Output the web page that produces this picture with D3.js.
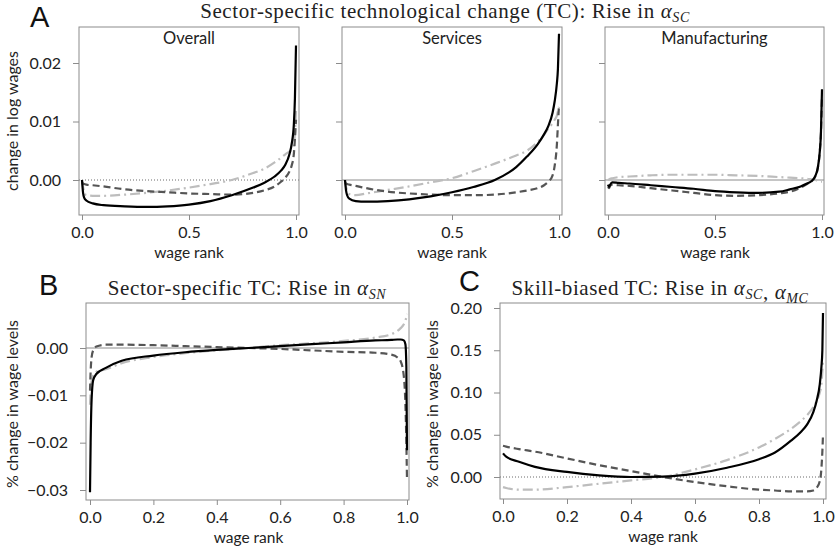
<!DOCTYPE html>
<html>
<head>
<meta charset="utf-8">
<title>Wage effects of technological change</title>
<script src="https://d3js.org/d3.v7.min.js"></script>
<style>
  body { margin: 0; background: #fff; }
  .tick text { font-family: Lato, sans-serif; font-size: 16px; fill: #222; }
  .tick line { stroke: #8c8c8c; }
  .axis .domain { display: none; }
  .lbl { font-family: Lato, sans-serif; fill: #222; }
  .ttl { font-family: "Liberation Serif", serif; fill: #222; font-size: 21px; letter-spacing: 0.6px; }
  .big { font-family: "Liberation Sans", sans-serif; font-size: 29px; fill: #111; }
</style>
</head>
<body>
<script>
// wage rank grids (dense near the ends where the curves spike)
var rankA = [0, .005, .01, .02, .05, .1, .2, .3, .4, .5, .6, .7, .8, .85, .9, .93, .95, .97, .98, .99, .995, 1];
var rankB = [0, .002, .005, .01, .02, .05, .1, .2, .3, .4, .5, .6, .7, .8, .9, .95, .97, .98, .99, .995, .998, 1];
var rankC = [0, .01, .05, .1, .2, .3, .4, .5, .6, .7, .8, .85, .9, .93, .95, .97, .98, .99, .995, .998, 1];

// Panel A: change in log wages, rise in alpha_SC
var overallSolid   = [0, -0.0022, -0.003, -0.0035, -0.004, -0.0043, -0.0045, -0.0046, -0.0045, -0.0042, -0.0036, -0.0026, -0.0013, -0.0005, 0.0006, 0.0016, 0.0026, 0.0045, 0.0062, 0.0095, 0.014, 0.023];
var overallDashed  = [-0.0005, -0.0006, -0.0007, -0.0008, -0.0009, -0.0011, -0.0016, -0.0019, -0.0021, -0.0023, -0.0024, -0.0025, -0.0022, -0.0018, -0.0011, -0.0003, 0.0004, 0.0015, 0.0025, 0.0045, 0.007, 0.0103];
var overallDotDash = [0, -0.0012, -0.002, -0.0026, -0.0027, -0.0027, -0.0025, -0.0022, -0.0018, -0.0013, -0.0007, 0.0, 0.0012, 0.0019, 0.003, 0.0038, 0.0044, 0.0049, 0.0052, 0.006, 0.008, 0.012];

var servSolid   = [0, -0.0018, -0.0026, -0.0032, -0.0036, -0.0037, -0.0036, -0.0033, -0.0028, -0.0021, -0.0012, 0.0, 0.0022, 0.0040, 0.0061, 0.0078, 0.0092, 0.0115, 0.0135, 0.0165, 0.019, 0.025];
var servDashed  = [-0.0005, -0.0006, -0.0007, -0.0008, -0.001, -0.0014, -0.002, -0.0023, -0.0025, -0.0026, -0.0026, -0.0025, -0.0021, -0.0018, -0.0014, -0.0009, -0.0003, 0.0008, 0.0025, 0.006, 0.0095, 0.0128];
var servDotDash = [0, -0.0012, -0.0018, -0.0024, -0.0026, -0.0023, -0.0017, -0.0011, -0.0004, 0.0003, 0.0015, 0.0028, 0.0042, 0.005, 0.0065, 0.0077, 0.0088, 0.0097, 0.0103, 0.011, 0.0118, 0.0125];

var manuSolid   = [-0.0008, -0.0012, -0.0008, -0.0004, -0.0005, -0.0006, -0.0009, -0.0012, -0.0015, -0.0019, -0.0021, -0.0022, -0.002, -0.0016, -0.0011, -0.0006, -0.0002, 0.0008, 0.002, 0.005, 0.008, 0.0155];
var manuDashed  = [-0.0012, -0.0014, -0.001, -0.0008, -0.0009, -0.001, -0.0014, -0.0018, -0.0022, -0.0026, -0.0027, -0.0026, -0.0023, -0.002, -0.0013, -0.0007, -0.0003, 0.0007, 0.002, 0.005, 0.008, 0.0145];
var manuDotDash = [0, 0.0001, 0.0002, 0.0003, 0.0005, 0.0006, 0.0008, 0.0009, 0.0009, 0.0009, 0.0008, 0.0007, 0.0005, 0.0004, 0.0003, 0.0002, 0.0001, 0.0, -0.0001, -0.0002, -0.0003, -0.0003];

// Panel B: rise in alpha_SN
var snSolid   = [-0.0305, -0.02, -0.011, -0.0068, -0.0055, -0.0042, -0.0027, -0.0016, -0.0009, -0.0004, 0.0, 0.0004, 0.0008, 0.0012, 0.0016, 0.0017, 0.0018, 0.0018, 0.0016, 0.0008, -0.004, -0.0216];
var snDashed  = [-0.009, -0.005, -0.002, -0.0005, 0.0003, 0.0007, 0.0007, 0.0006, 0.0004, 0.0002, 0.0, -0.0002, -0.0005, -0.0008, -0.001, -0.0014, -0.002, -0.0028, -0.006, -0.012, -0.02, -0.028];
var snDotDash = [-0.012, -0.009, -0.007, -0.0058, -0.005, -0.0045, -0.0032, -0.0019, -0.0011, -0.0005, 0.0, 0.0006, 0.001, 0.0015, 0.0022, 0.0029, 0.0036, 0.0042, 0.005, 0.0058, 0.0065, 0.0072];

// Panel C: rise in alpha_SC, alpha_MC
var sbSolid   = [0.028, 0.024, 0.018, 0.012, 0.006, 0.002, 0.0, 0.0005, 0.004, 0.011, 0.021, 0.029, 0.043, 0.053, 0.062, 0.077, 0.09, 0.11, 0.13, 0.15, 0.194];
var sbDashed  = [0.037, 0.036, 0.033, 0.03, 0.022, 0.014, 0.007, 0.0, -0.006, -0.011, -0.015, -0.016, -0.017, -0.017, -0.017, -0.016, -0.013, -0.005, 0.01, 0.03, 0.05];
var sbDotDash = [-0.012, -0.013, -0.015, -0.015, -0.012, -0.008, -0.004, 0.0, 0.009, 0.02, 0.035, 0.045, 0.057, 0.066, 0.073, 0.083, 0.09, 0.1, 0.11, 0.125, 0.14];

var ticksA = [0, 0.01, 0.02];
var ticksB = [0, -0.01, -0.02, -0.03];
var ticksC = [0, 0.05, 0.1, 0.15, 0.2];
var ticksXA = [0, 0.5, 1];
var ticksXB = [0, 0.2, 0.4, 0.6, 0.8, 1];

var svg = d3.select("body").append("svg")
    .attr("width", 838)
    .attr("height", 550);

var styles = {
  dotdash: { color: "#bdbdbd", dash: "10,4,2,4" },
  dashed:  { color: "#555555", dash: "7,4" },
  solid:   { color: "#000000", dash: null }
};

var nClip = 0;

function panel(o) {
  var x = d3.scaleLinear().domain([0, 1]).range(o.xr);
  var y = d3.scaleLinear().domain(o.yd).range(o.yr);
  var g = svg.append("g");

  // y axis
  g.append("g").attr("class", "axis")
      .attr("transform", "translate(" + o.left + ",0)")
      .call(d3.axisLeft(y).tickValues(o.yticks).tickSize(6).tickPadding(12)
            .tickFormat(o.ylabels ? o.yfmt : function() { return ""; }));

  // x axis
  g.append("g").attr("class", "axis")
      .attr("transform", "translate(0," + o.bottom + ")")
      .call(d3.axisBottom(x).tickValues(o.xticks).tickSize(5).tickPadding(7)
            .tickFormat(d3.format(".1f")));

  // zero line
  var zl = g.append("line")
      .attr("x1", o.left).attr("x2", o.right)
      .attr("y1", y(0)).attr("y2", y(0));
  if (o.zeroDotted) {
    zl.attr("stroke", "#444").attr("stroke-width", 0.8).attr("stroke-dasharray", "1,2");
  } else {
    zl.attr("stroke", "#8c8c8c").attr("stroke-width", 1);
  }

  var id = "clip" + (nClip++);
  svg.append("clipPath").attr("id", id).append("rect")
      .attr("x", o.left).attr("y", o.top)
      .attr("width", o.right - o.left).attr("height", o.bottom - o.top);

  var line = d3.line()
      .x(function(d, i) { return x(o.rank[i]); })
      .y(function(d) { return y(d); })
      .curve(d3.curveMonotoneX);

  o.series.forEach(function(s) {
    var st = styles[s.style];
    g.append("path")
        .attr("clip-path", "url(#" + id + ")")
        .attr("d", line(s.values))
        .attr("fill", "none")
        .attr("stroke", st.color)
        .attr("stroke-width", 2.2)
        .attr("stroke-dasharray", st.dash);
  });

  // box
  g.append("rect")
      .attr("x", o.left).attr("y", o.top)
      .attr("width", o.right - o.left).attr("height", o.bottom - o.top)
      .attr("fill", "none").attr("stroke", "#8c8c8c").attr("stroke-width", 1);

  if (o.name) {
    g.append("text").attr("class", "lbl")
        .attr("x", (o.left + o.right) / 2).attr("y", o.top + 17)
        .attr("text-anchor", "middle").attr("font-size", 16.5)
        .text(o.name);
  }

  g.append("text").attr("class", "lbl")
      .attr("x", (o.xr[0] + o.xr[1]) / 2).attr("y", o.bottom + 43)
      .attr("text-anchor", "middle").attr("font-size", 15.5)
      .text("wage rank");
}

// subscript title helper
function title(xc, yb, parts) {
  var t = svg.append("text").attr("class", "ttl")
      .attr("x", xc).attr("y", yb).attr("text-anchor", "middle");
  parts.forEach(function(p) {
    if (p.sub) {
      t.append("tspan").attr("font-style", "italic").text("α");
      t.append("tspan").attr("font-style", "italic").attr("font-size", "14px")
          .attr("dy", 4).text(p.sub);
      t.append("tspan").attr("dy", -4).text("");
    } else {
      t.append("tspan").text(p.text);
    }
  });
}

var fmtA = d3.format(".2f");

panel({ left: 79, right: 299, top: 27, bottom: 215, xr: [82, 296], yd: [0, 0.02], yr: [180, 63],
  yticks: ticksA, ylabels: true, yfmt: fmtA, xticks: ticksXA, rank: rankA, zeroDotted: true, name: "Overall",
  series: [{ style: "dotdash", values: overallDotDash }, { style: "dashed", values: overallDashed }, { style: "solid", values: overallSolid }] });
panel({ left: 342, right: 562, top: 27, bottom: 215, xr: [345, 559], yd: [0, 0.02], yr: [180, 63],
  yticks: ticksA, ylabels: false, xticks: ticksXA, rank: rankA, zeroDotted: false, name: "Services",
  series: [{ style: "dotdash", values: servDotDash }, { style: "dashed", values: servDashed }, { style: "solid", values: servSolid }] });
panel({ left: 605, right: 824, top: 27, bottom: 215, xr: [608, 822], yd: [0, 0.02], yr: [180, 63],
  yticks: ticksA, ylabels: false, xticks: ticksXA, rank: rankA, zeroDotted: false, name: "Manufacturing",
  series: [{ style: "dotdash", values: manuDotDash }, { style: "dashed", values: manuDashed }, { style: "solid", values: manuSolid }] });
panel({ left: 86, right: 409, top: 303, bottom: 500, xr: [90, 407], yd: [0, -0.03], yr: [348, 490],
  yticks: ticksB, ylabels: true, yfmt: fmtA, xticks: ticksXB, rank: rankB, zeroDotted: false,
  series: [{ style: "dotdash", values: snDotDash }, { style: "dashed", values: snDashed }, { style: "solid", values: snSolid }] });
panel({ left: 500, right: 826, top: 303, bottom: 499, xr: [503, 823], yd: [0, 0.2], yr: [477, 308],
  yticks: ticksC, ylabels: true, yfmt: fmtA, xticks: ticksXB, rank: rankC, zeroDotted: true,
  series: [{ style: "dotdash", values: sbDotDash }, { style: "dashed", values: sbDashed }, { style: "solid", values: sbSolid }] });

// y axis titles
function ytitle(xb, yc, txt) {
  svg.append("text").attr("class", "lbl")
      .attr("transform", "translate(" + xb + "," + yc + ") rotate(-90)")
      .attr("text-anchor", "middle").attr("font-size", 16)
      .text(txt);
}
ytitle(18, 121, "change in log wages");
ytitle(18, 404, "% change in wage levels");
ytitle(438, 404, "% change in wage levels");

// panel letters
svg.append("text").attr("class", "big").attr("x", 30).attr("y", 27).text("A");
svg.append("text").attr("class", "big").attr("x", 39).attr("y", 295).text("B");
svg.append("text").attr("class", "big").attr("x", 459).attr("y", 291).attr("font-size", 28).text("C");

// titles
title(445, 18, [{ text: "Sector-specific technological change (TC): Rise in " }, { sub: "SC" }]);
title(247, 295, [{ text: "Sector-specific TC: Rise in " }, { sub: "SN" }]);
title(660, 295, [{ text: "Skill-biased TC: Rise in " }, { sub: "SC" }, { text: ", " }, { sub: "MC" }]);
</script>
</body>
</html>
